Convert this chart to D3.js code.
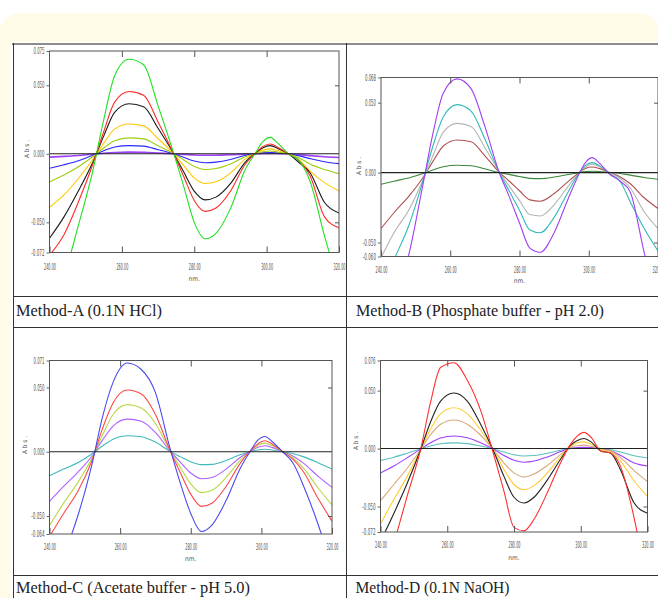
<!DOCTYPE html>
<html lang="en">
  <head>
    <meta charset="UTF-8" />
    <title>Derivative spectra - Methods A to D</title>
    <script src="https://d3js.org/d3.v7.min.js"></script>
    <style>
      body { margin: 0; background: #fff; }
      svg { display: block; }
      .tick-label {
        font-family: 'Liberation Sans Narrow', 'DejaVu Sans Condensed', sans-serif;
        font-size: 8px;
        fill: #555;
      }
      .caption {
        font-family: 'Liberation Serif', 'DejaVu Serif', serif;
        font-size: 16.5px;
        fill: #222;
      }
    </style>
  </head>
  <body>
    <div id="chart-container"></div>
    <script>
      // wavelength grid (nm), shared by all panels
      const wavelengths = [240, 244, 248, 252, 255, 258, 262, 266, 270, 274, 277, 280, 283, 286, 290, 294, 297, 299, 301, 303, 306, 309, 312, 316, 320];
      const xTicks = [240, 260, 280, 300, 320];

      // Method-A (0.1N HCl)
      const aGreen = [-0.100, -0.088, -0.052, -0.012, 0.025, 0.057, 0.069, 0.065, 0.035, 0.003, -0.023, -0.050, -0.062, -0.058, -0.040, -0.012, 0.001, 0.009, 0.012, 0.008, 0.000, -0.005, -0.020, -0.060, -0.095];
      const aRed = [-0.074, -0.059, -0.035, -0.0074, 0.0163, 0.0377, 0.0454, 0.0427, 0.0232, 0.0018, -0.016, -0.034, -0.042, -0.0395, -0.0273, -0.008, 0.0008, 0.0054, 0.0072, 0.0048, 0.000, -0.005, -0.016, -0.046, -0.054];
      const aBlack = [-0.0616, -0.046, -0.027, -0.006, 0.0131, 0.0303, 0.0365, 0.0343, 0.0186, 0.0015, -0.0128, -0.0272, -0.0336, -0.0316, -0.0218, -0.0064, 0.0007, 0.0045, 0.006, 0.004, 0.000, -0.0065, -0.0138, -0.0355, -0.0432];
      const aOrange = [-0.039, -0.030, -0.018, -0.004, 0.0078, 0.018, 0.0217, 0.0204, 0.011, 0.0009, -0.0082, -0.0176, -0.0217, -0.0204, -0.0141, -0.0041, 0.0004, 0.0027, 0.0036, 0.0024, 0.000, -0.0045, -0.0126, -0.021, -0.027];
      const aLime = [-0.0205, -0.0155, -0.0095, -0.002, 0.0042, 0.0096, 0.0116, 0.0109, 0.0059, 0.0005, -0.0043, -0.0092, -0.0114, -0.0107, -0.0074, -0.0022, 0.0002, 0.0015, 0.002, 0.0013, 0.000, -0.003, -0.0075, -0.0115, -0.0145];
      const aBlue = [-0.0106, -0.008, -0.005, -0.001, 0.0022, 0.005, 0.006, 0.0056, 0.003, 0.0002, -0.0025, -0.0053, -0.0065, -0.0061, -0.0042, -0.0012, 0.0001, 0.0008, 0.001, 0.0007, 0.000, -0.0015, -0.0035, -0.0058, -0.0072];
      const aPurple = [-0.0024, -0.0019, -0.0012, -0.0003, 0.0004, 0.0009, 0.0012, 0.0011, 0.0006, 0.000, -0.0004, -0.0009, -0.0011, -0.001, -0.0007, -0.0002, 0.000, 0.0002, 0.0003, 0.0002, 0.000, -0.0006, -0.0013, -0.0021, -0.0027];

      // Method-B (Phosphate buffer - pH 2.0)
      const bPurple = [-0.105, -0.090, -0.059, -0.010, 0.028, 0.057, 0.067, 0.060, 0.033, 0.001, -0.017, -0.036, -0.054, -0.057, -0.043, -0.019, -0.002, 0.007, 0.0107, 0.007, -0.001, -0.006, -0.014, -0.057, -0.095];
      const bCyan = [-0.085, -0.061, -0.038, -0.007, 0.019, 0.040, 0.0486, 0.044, 0.024, 0.001, -0.013, -0.027, -0.041, -0.043, -0.032, -0.014, -0.001, 0.005, 0.0071, 0.005, -0.001, -0.006, -0.021, -0.040, -0.056];
      const bGray = [-0.061, -0.042, -0.027, -0.006, 0.012, 0.029, 0.0352, 0.033, 0.018, 0.001, -0.0095, -0.020, -0.030, -0.031, -0.023, -0.010, -0.001, 0.004, 0.006, 0.0045, 0.000, -0.004, -0.011, -0.028, -0.040];
      const bBrown = [-0.040, -0.028, -0.017, -0.004, 0.008, 0.019, 0.0233, 0.022, 0.012, 0.0006, -0.006, -0.013, -0.0195, -0.0205, -0.015, -0.0065, -0.0005, 0.003, 0.004, 0.003, 0.000, -0.003, -0.008, -0.018, -0.0257];
      const bGreen = [-0.0083, -0.006, -0.0038, -0.0009, 0.0018, 0.0042, 0.0052, 0.0049, 0.0027, 0.0001, -0.0013, -0.0028, -0.0041, -0.0043, -0.0032, -0.0014, -0.0001, 0.0007, 0.001, 0.0008, 0.0001, -0.0006, -0.0018, -0.0035, -0.0048];

      // Method-C (Acetate buffer - pH 5.0)
      const cBlue = [-0.100, -0.080, -0.050, -0.010, 0.027, 0.054, 0.069, 0.064, 0.046, 0.004, -0.024, -0.048, -0.062, -0.057, -0.038, -0.013, 0.001, 0.009, 0.0119, 0.008, 0.000, -0.009, -0.027, -0.056, -0.090];
      const cRed = [-0.066, -0.048, -0.031, -0.007, 0.018, 0.038, 0.0481, 0.045, 0.029, 0.002, -0.016, -0.033, -0.0425, -0.040, -0.027, -0.009, 0.001, 0.006, 0.0085, 0.006, 0.000, -0.006, -0.016, -0.036, -0.054];
      const cLime = [-0.0575, -0.040, -0.024, -0.005, 0.013, 0.029, 0.0367, 0.034, 0.022, 0.0015, -0.012, -0.025, -0.0318, -0.030, -0.020, -0.0068, 0.0007, 0.005, 0.0067, 0.0048, 0.000, -0.005, -0.013, -0.028, -0.0414];
      const cPurple = [-0.0386, -0.027, -0.016, -0.0035, 0.009, 0.020, 0.0254, 0.0238, 0.015, 0.001, -0.008, -0.0165, -0.021, -0.020, -0.0135, -0.0045, 0.0005, 0.0035, 0.0047, 0.0034, 0.000, -0.0035, -0.009, -0.019, -0.0277];
      const cTeal = [-0.0186, -0.0135, -0.0085, -0.0018, 0.0045, 0.0098, 0.0124, 0.0117, 0.0075, 0.0005, -0.0038, -0.0078, -0.0100, -0.0098, -0.0068, -0.0023, 0.0002, 0.0014, 0.0019, 0.0014, 0.000, -0.0015, -0.004, -0.0085, -0.0135];

      // Method-D (0.1N NaOH)
      const dRed = [-0.120, -0.082, -0.041, -0.001, 0.040, 0.070, 0.074, 0.059, 0.033, -0.006, -0.037, -0.068, -0.071, -0.061, -0.038, -0.012, 0.004, 0.011, 0.014, 0.010, -0.002, -0.004, -0.016, -0.060, -0.120];
      const dBlack = [-0.080, -0.056, -0.030, -0.001, 0.023, 0.041, 0.048, 0.041, 0.021, -0.003, -0.024, -0.042, -0.047, -0.042, -0.027, -0.009, 0.003, 0.007, 0.0087, 0.006, -0.002, -0.004, -0.019, -0.047, -0.0558];
      const dGold = [-0.065, -0.044, -0.024, -0.001, 0.017, 0.030, 0.0352, 0.030, 0.016, -0.002, -0.018, -0.031, -0.0355, -0.032, -0.021, -0.007, 0.002, 0.005, 0.0058, 0.004, -0.001, -0.003, -0.011, -0.028, -0.0413];
      const dTan = [-0.045, -0.031, -0.017, -0.001, 0.012, 0.021, 0.0247, 0.021, 0.0115, -0.0015, -0.0125, -0.021, -0.0245, -0.022, -0.0145, -0.005, 0.0012, 0.0025, 0.003, 0.002, -0.0005, -0.002, -0.008, -0.019, -0.0285];
      const dPurple = [-0.021, -0.015, -0.008, -0.0005, 0.005, 0.0092, 0.0108, 0.0093, 0.005, -0.0007, -0.006, -0.010, -0.0118, -0.0108, -0.0072, -0.0025, 0.0004, 0.0008, 0.001, 0.0008, 0.000, -0.002, -0.006, -0.0125, -0.0151];
      const dTeal = [-0.0102, -0.0075, -0.004, -0.0003, 0.0022, 0.0042, 0.0049, 0.0043, 0.0022, -0.0004, -0.003, -0.0053, -0.0064, -0.006, -0.004, -0.0014, 0.0002, 0.0005, 0.0006, 0.0005, 0.0001, -0.001, -0.003, -0.0062, -0.0081];

      // y-axis end labels
      const aYTicks = [-0.072, -0.05, 0, 0.05, 0.075];
      const bYTicks = [-0.06, -0.05, 0, 0.05, 0.068];
      const cYTicks = [-0.064, -0.05, 0, 0.05, 0.071];
      const dYTicks = [-0.072, -0.05, 0, 0.05, 0.076];

      const panels = [
        {
          id: 'A', left: 49.5, right: 339, top: 51, bottom: 252.5,
          yTicks: aYTicks, labelOffset: 15, nmOffset: 26.5, absX: 29, absY: 149,
          series: [
            { values: aPurple, color: '#a040ff', width: 1.6 },
            { values: aBlue, color: '#2828ff' },
            { values: aLime, color: '#9ccc10' },
            { values: aOrange, color: '#ffc800' },
            { values: aBlack, color: '#1a1a1a' },
            { values: aRed, color: '#ff2a2a' },
            { values: aGreen, color: '#22e022' },
          ],
          caption: 'Method-A (0.1N HCl)', capX: 16, capY: 316, capW: 146,
        },
        {
          id: 'B', left: 381, right: 658, top: 77.5, bottom: 256.5,
          yTicks: bYTicks, labelOffset: 13.5, nmOffset: 24.5, absX: 361, absY: 166,
          series: [
            { values: bGreen, color: '#3a8a3a' },
            { values: bBrown, color: '#b05050' },
            { values: bGray, color: '#b4b4b4' },
            { values: bCyan, color: '#30b8b8' },
            { values: bPurple, color: '#a040f0' },
          ],
          caption: 'Method-B (Phosphate buffer - pH 2.0)', capX: 356, capY: 316, capW: 248,
        },
        {
          id: 'C', left: 49.5, right: 332, top: 360.5, bottom: 534,
          yTicks: cYTicks, labelOffset: 12.7, nmOffset: 25, absX: 27, absY: 445,
          series: [
            { values: cTeal, color: '#40b8b8' },
            { values: cPurple, color: '#b060ff' },
            { values: cLime, color: '#b8d848' },
            { values: cRed, color: '#ff4848' },
            { values: cBlue, color: '#4a4af0' },
          ],
          caption: 'Method-C (Acetate buffer - pH 5.0)', capX: 16, capY: 593, capW: 234,
        },
        {
          id: 'D', left: 380.5, right: 647.5, top: 360.5, bottom: 532,
          yTicks: dYTicks, labelOffset: 13, nmOffset: 26, absX: 358, absY: 441,
          series: [
            { values: dTeal, color: '#5cc0c0' },
            { values: dPurple, color: '#a040ff' },
            { values: dTan, color: '#d8a878' },
            { values: dGold, color: '#ffcc33' },
            { values: dBlack, color: '#222222' },
            { values: dRed, color: '#ff3030' },
          ],
          caption: 'Method-D (0.1N NaOH)', capX: 355.5, capY: 593, capW: 154,
        },
      ];

      const svg = d3
        .select('#chart-container')
        .append('svg')
        .attr('width', 658)
        .attr('height', 598);

      // cream page card and white table
      svg.append('rect').attr('width', 658).attr('height', 598).attr('fill', '#fff');
      svg.append('rect')
        .attr('x', -2).attr('y', 13).attr('width', 664).attr('height', 700)
        .attr('rx', 24).attr('fill', '#fffbe6');
      svg.append('rect')
        .attr('x', 10.5).attr('y', 42).attr('width', 700).attr('height', 600)
        .attr('fill', '#fff');

      const fmt = (d) => d.toFixed(3);

      panels.forEach(function (p) {
        const x = d3.scaleLinear().domain([240, 320]).range([p.left, p.right]);
        const y = d3
          .scaleLinear()
          .domain([p.yTicks[0], p.yTicks[p.yTicks.length - 1]])
          .range([p.bottom, p.top]);

        const g = svg.append('g');

        g.append('clipPath')
          .attr('id', 'clip-' + p.id)
          .append('rect')
          .attr('x', p.left).attr('y', p.top)
          .attr('width', p.right - p.left).attr('height', p.bottom - p.top);

        const line = d3
          .line()
          .x((d) => x(d[0]))
          .y((d) => y(d[1]))
          .curve(d3.curveMonotoneX);

        const plot = g.append('g').attr('clip-path', 'url(#clip-' + p.id + ')');

        plot.selectAll('.spec')
          .data(p.series)
          .enter()
          .append('path')
          .attr('class', 'spec')
          .attr('d', (s) => line(d3.zip(wavelengths, s.values)))
          .attr('fill', 'none')
          .attr('stroke', (s) => s.color)
          .attr('stroke-width', (s) => s.width || 1.1);

        // zero line
        plot.append('line')
          .attr('x1', p.left).attr('x2', p.right)
          .attr('y1', y(0)).attr('y2', y(0))
          .attr('stroke', '#222').attr('stroke-width', 1.1);

        // frame
        g.append('rect')
          .attr('x', p.left).attr('y', p.top)
          .attr('width', p.right - p.left).attr('height', p.bottom - p.top)
          .attr('fill', 'none').attr('stroke', '#555').attr('stroke-width', 1);

        // left axis
        const yAxis = g.append('g')
          .attr('transform', `translate(${p.left},0)`)
          .call(d3.axisLeft(y).tickValues(p.yTicks).tickSizeInner(3).tickSizeOuter(0).tickPadding(2).tickFormat(fmt));
        yAxis.select('.domain').remove();
        yAxis.selectAll('line').attr('stroke', '#666');
        yAxis.selectAll('text')
          .attr('class', 'tick-label')
          .attr('textLength', (d) => fmt(d).length * 2.2)
          .attr('lengthAdjust', 'spacingAndGlyphs');

        // bottom axis, ticks pointing inward
        const xAxis = g.append('g')
          .attr('transform', `translate(0,${p.bottom})`)
          .call(d3.axisBottom(x).tickValues(xTicks).tickSizeInner(-6).tickSizeOuter(0).tickFormat((d) => d.toFixed(2)));
        xAxis.select('.domain').remove();
        xAxis.selectAll('line').attr('stroke', '#555');
        xAxis.selectAll('text')
          .attr('class', 'tick-label')
          .attr('y', p.labelOffset)
          .attr('dy', '0.35em')
          .attr('textLength', 12)
          .attr('lengthAdjust', 'spacingAndGlyphs');

        // top and right inner ticks
        const topAxis = g.append('g')
          .attr('transform', `translate(0,${p.top})`)
          .call(d3.axisTop(x).tickValues([260, 280, 300]).tickSizeInner(-6).tickSizeOuter(0).tickFormat(''));
        topAxis.select('.domain').remove();
        topAxis.selectAll('line').attr('stroke', '#555');

        const rightAxis = g.append('g')
          .attr('transform', `translate(${p.right},0)`)
          .call(d3.axisRight(y).tickValues([-0.05, 0.05]).tickSizeInner(-4).tickSizeOuter(0).tickFormat(''));
        rightAxis.select('.domain').remove();
        rightAxis.selectAll('line').attr('stroke', '#555');

        // axis titles
        g.append('text')
          .attr('class', 'tick-label')
          .attr('x', (p.left + p.right) / 2)
          .attr('y', p.bottom + p.nmOffset)
          .attr('dy', '0.35em')
          .attr('text-anchor', 'middle')
          .style('font-size', '6.5px')
          .text('nm.');

        g.append('text')
          .attr('class', 'tick-label')
          .attr('transform', `translate(${p.absX},${p.absY}) rotate(-90)`)
          .attr('text-anchor', 'middle')
          .style('font-size', '6.5px')
          .text('A b s .');

        // caption
        svg.append('text')
          .attr('class', 'caption')
          .attr('x', p.capX)
          .attr('y', p.capY)
          .attr('textLength', p.capW)
          .attr('lengthAdjust', 'spacingAndGlyphs')
          .text(p.caption);
      });

      // table rules
      const rule = (x1, y1, x2, y2, c, w) =>
        svg.append('line')
          .attr('x1', x1).attr('y1', y1).attr('x2', x2).attr('y2', y2)
          .attr('stroke', c).attr('stroke-width', w);

      rule(12, 44, 658, 44, '#8c8c8c', 2);
      rule(13.5, 43, 13.5, 598, '#333', 1);
      rule(346.5, 43, 346.5, 598, '#333', 1);
      rule(13, 296.5, 658, 296.5, '#333', 1);
      rule(13, 327.5, 658, 327.5, '#333', 1);
      rule(13, 575.5, 658, 575.5, '#333', 1);
    </script>
  </body>
</html>
